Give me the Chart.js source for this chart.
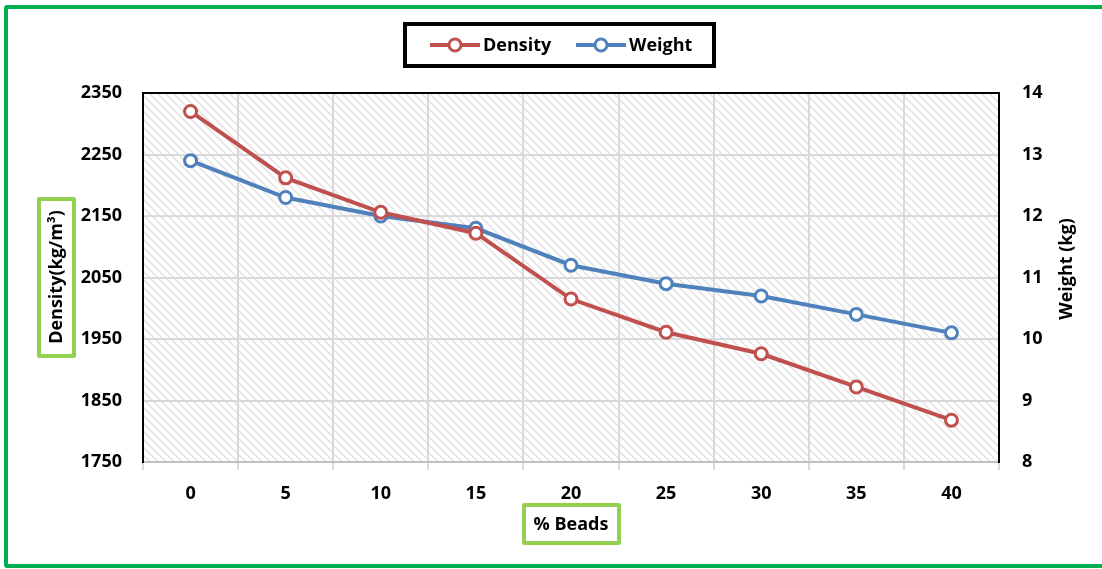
<!DOCTYPE html>
<html>
<head>
<meta charset="utf-8">
<script src="https://cdn.jsdelivr.net/npm/chart.js@4.4.1/dist/chart.umd.min.js"></script>
<style>
  html, body { margin: 0; padding: 0; background: #fff; overflow: hidden; }
  #wrap { position: relative; width: 1102px; height: 569px; }
  #frame {
    position: absolute; left: 4px; top: 5px; width: 1110px; height: 555px;
    border: 4px solid #00b050; border-radius: 3px; pointer-events: none;
  }
  canvas { position: absolute; left: 0; top: 0; }
</style>
</head>
<body>
<div id="wrap">
  <canvas id="chart" width="1102" height="569"></canvas>
  <div id="frame"></div>
</div>
<script>
/* =====================================
   Data
===================================== */
const beadsPercent = ["0", "5", "10", "15", "20", "25", "30", "35", "40"];

const densityValues = [2320, 2212, 2156, 2122, 2015, 1961, 1926, 1872, 1818];

const weightValues = [12.9, 12.3, 12.0, 11.8, 11.2, 10.9, 10.7, 10.4, 10.1];

const densityTicks = [1750, 1850, 1950, 2050, 2150, 2250, 2350];

const weightTicks = [8, 9, 10, 11, 12, 13, 14];

const seriesNames = ["Density", "Weight"];

const FONT = "'Open Sans', Lato, sans-serif";
const RED = "#c0504d";
const BLUE = "#4f81bd";

/* =====================================
   Hatch pattern
===================================== */
function makeHatch() {
  const c = document.createElement("canvas");
  c.width = 8;
  c.height = 8;
  const g = c.getContext("2d");
  g.fillStyle = "#ffffff";
  g.fillRect(0, 0, 8, 8);
  g.strokeStyle = "#e2e2e2";
  g.lineWidth = 1.5;
  g.beginPath();
  g.moveTo(-2, -2); g.lineTo(10, 10);
  g.moveTo(-6, 2); g.lineTo(2, 10);
  g.moveTo(6, -2); g.lineTo(14, 6);
  g.stroke();
  return c;
}

const hatchPlugin = {
  id: "hatch",
  beforeDraw(chart) {
    const { ctx, chartArea: a } = chart;
    ctx.save();
    ctx.fillStyle = ctx.createPattern(makeHatch(), "repeat");
    ctx.fillRect(a.left, a.top, a.right - a.left, a.bottom - a.top);
    ctx.restore();
  }
};

/* =====================================
   Frame, legend, axis titles
===================================== */
function greenBox(ctx, x, y, w, h) {
  ctx.save();
  ctx.strokeStyle = "#92d050";
  ctx.lineWidth = 4;
  ctx.lineJoin = "round";
  ctx.strokeRect(x, y, w, h);
  ctx.restore();
}

const decorPlugin = {
  id: "decor",
  afterDraw(chart) {
    const { ctx, chartArea: a } = chart;

    // plot border (top / left / right)
    ctx.save();
    ctx.strokeStyle = "#000";
    ctx.lineWidth = 2;
    ctx.beginPath();
    ctx.moveTo(a.left, a.bottom);
    ctx.lineTo(a.left, a.top);
    ctx.lineTo(a.right, a.top);
    ctx.lineTo(a.right, a.bottom);
    ctx.stroke();
    ctx.restore();

    // legend
    ctx.save();
    ctx.strokeStyle = "#000";
    ctx.lineWidth = 4;
    ctx.strokeRect(405, 24, 309, 42);
    ctx.font = "bold 18px " + FONT;
    ctx.textBaseline = "middle";
    ctx.fillStyle = "#000";
    const starts = [430, 576];
    chart.data.datasets.forEach((ds, i) => {
      const x0 = starts[i];
      ctx.strokeStyle = ds.borderColor;
      ctx.lineWidth = 4;
      ctx.beginPath();
      ctx.moveTo(x0, 45);
      ctx.lineTo(x0 + 50, 45);
      ctx.stroke();
      ctx.beginPath();
      ctx.arc(x0 + 25, 45, 6, 0, Math.PI * 2);
      ctx.fillStyle = "#fff";
      ctx.fill();
      ctx.lineWidth = 3;
      ctx.stroke();
      ctx.fillStyle = "#000";
      ctx.textAlign = "left";
      ctx.fillText(ds.label, x0 + 53, 46);
    });
    ctx.restore();

    // left title
    greenBox(ctx, 39, 199, 35, 157);
    ctx.save();
    ctx.font = "bold 18px " + FONT;
    ctx.fillStyle = "#000";
    ctx.textAlign = "center";
    ctx.textBaseline = "middle";
    ctx.translate(57, 277);
    ctx.rotate(-Math.PI / 2);
    ctx.fillText("Density(kg/m\u00b3)", 0, 0);
    ctx.restore();

    // bottom title
    greenBox(ctx, 524, 505, 95, 38);
    ctx.save();
    ctx.font = "bold 18px " + FONT;
    ctx.fillStyle = "#000";
    ctx.textAlign = "center";
    ctx.textBaseline = "middle";
    ctx.fillText("% Beads", 571, 525);
    ctx.restore();

    // right title
    ctx.save();
    ctx.font = "bold 18px " + FONT;
    ctx.fillStyle = "#000";
    ctx.textAlign = "center";
    ctx.textBaseline = "middle";
    ctx.translate(1067, 269);
    ctx.rotate(-Math.PI / 2);
    ctx.fillText("Weight (kg)", 0, 0);
    ctx.restore();
  }
};

/* =====================================
   Chart
===================================== */
const tickFont = { family: FONT, size: 18, weight: "bold" };

new Chart(document.getElementById("chart"), {
  type: "line",
  data: {
    labels: beadsPercent,
    datasets: [
      {
        label: seriesNames[0],
        data: densityValues,
        yAxisID: "y",
        borderColor: RED,
        pointBorderColor: RED,
        pointBackgroundColor: "#fff",
        borderWidth: 4,
        pointRadius: 6,
        pointBorderWidth: 3,
        tension: 0
      },
      {
        label: seriesNames[1],
        data: weightValues,
        yAxisID: "y2",
        borderColor: BLUE,
        pointBorderColor: BLUE,
        pointBackgroundColor: "#fff",
        borderWidth: 4,
        pointRadius: 6,
        pointBorderWidth: 3,
        tension: 0
      }
    ]
  },
  options: {
    responsive: false,
    animation: false,
    layout: {
      padding: { left: 43, right: 43, top: 93, bottom: 47 }
    },
    plugins: {
      legend: { display: false },
      tooltip: { enabled: false }
    },
    scales: {
      x: {
        offset: true,
        grid: {
          offset: true,
          color: "#d9d9d9",
          lineWidth: 2,
          tickLength: 8
        },
        border: { color: "#bfbfbf", width: 2 },
        ticks: { color: "#000", font: tickFont, padding: 13 },
        afterFit(s) { s.height = 60; }
      },
      y: {
        position: "left",
        min: densityTicks[0],
        max: densityTicks[densityTicks.length - 1],
        afterBuildTicks(s) { s.ticks = densityTicks.map(v => ({ value: v })); },
        grid: { color: "#d9d9d9", lineWidth: 2, drawTicks: false },
        border: { color: "#000", width: 2 },
        ticks: {
          color: "#000",
          font: tickFont,
          padding: 21,
          callback: (v) => String(v)
        },
        afterFit(s) { s.width = 100; }
      },
      y2: {
        position: "right",
        min: weightTicks[0],
        max: weightTicks[weightTicks.length - 1],
        afterBuildTicks(s) { s.ticks = weightTicks.map(v => ({ value: v })); },
        grid: { drawOnChartArea: false, drawTicks: false },
        border: { color: "#000", width: 2 },
        ticks: {
          color: "#000",
          font: tickFont,
          padding: 23,
          callback: (v) => String(v)
        },
        afterFit(s) { s.width = 60; }
      }
    }
  },
  plugins: [hatchPlugin, decorPlugin]
});
</script>
</body>
</html>
